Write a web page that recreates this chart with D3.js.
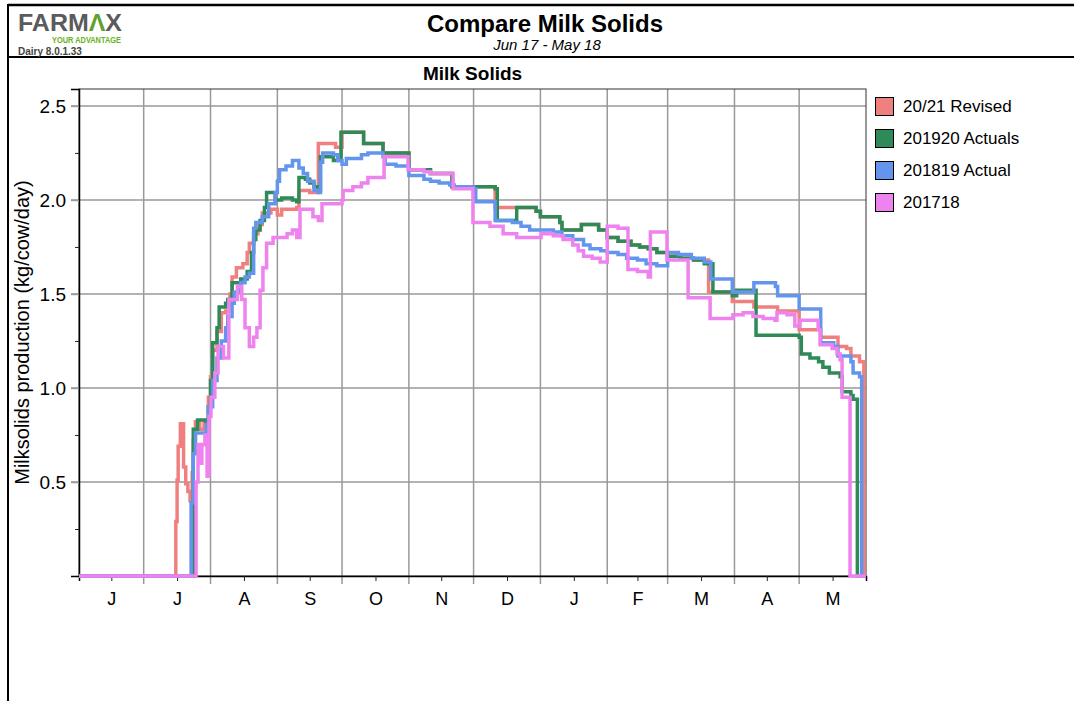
<!DOCTYPE html>
<html>
<head>
<meta charset="utf-8">
<script src="https://cdn.jsdelivr.net/npm/d3@7/dist/d3.min.js"></script>
<style>
  body { margin: 0; background: #fff; }
  text { font-family: "Liberation Sans", Arial, sans-serif; }
</style>
</head>
<body>
<div id="chart"></div>
<script>
// season runs Jun 2017 - May 2018, series are [day of season, kgMS/cow/day]
const seasonStart = new Date(2017, 5, 1);
const seasonEnd = new Date(2018, 5, 1);
const monthLabels = ["J", "J", "A", "S", "O", "N", "D", "J", "F", "M", "A", "M"];
const yTicks = [0.5, 1.0, 1.5, 2.0, 2.5];
const yMinorTicks = [0.25, 0.75, 1.25, 1.75, 2.25];
const yMax = 2.59;

const seriesNames = ["20/21 Revised", "201920 Actuals", "201819 Actual", "201718"];
const seriesColors = ["#F08080", "#2E8B57", "#6495ED", "#EE82EE"];

const revised2021 = [
  [0, 0], [44.9, 0.29], [45.5, 0.51], [46, 0.69], [47, 0.81], [48.5, 0.58], [49.5, 0.49],
  [50.5, 0.45], [51.5, 0.40], [52.5, 0.55], [53, 0.72], [54, 0.82], [56, 0.78], [58, 0.82],
  [60, 0.95], [61, 1.06], [62, 1.20], [64, 1.30], [66, 1.40], [68, 1.41], [70, 1.50],
  [71, 1.59], [73, 1.64], [76, 1.66], [78, 1.72], [79, 1.77], [81, 1.82], [83, 1.87],
  [85, 1.93], [89, 1.95], [92, 1.92], [94, 1.95], [99, 1.95], [101, 1.96], [102, 2.05],
  [107, 2.04], [111, 2.30], [119, 2.28], [122, 2.36], [132, 2.30], [141, 2.25], [153, 2.16],
  [163, 2.14], [173, 2.07], [193, 1.96], [212, 1.94], [214, 1.91], [223, 1.88], [224, 1.84],
  [233, 1.87], [241, 1.84], [245, 1.80], [250, 1.78], [256, 1.76], [260, 1.75], [264, 1.74],
  [268, 1.72], [273, 1.70], [279, 1.69], [285, 1.68], [292, 1.51], [303, 1.46], [313, 1.43],
  [324, 1.41], [334, 1.31], [344, 1.27], [352, 1.22], [356, 1.21], [358, 1.17], [362, 1.14],
  [364, 0], [365, 0]
];

const actuals1920 = [
  [0, 0], [53, 0.78], [55, 0.83], [59, 0.82], [60, 0.90], [61, 1.04], [62, 1.24], [64, 1.32],
  [65, 1.43], [68, 1.45], [69, 1.47], [71, 1.56], [75, 1.58], [78, 1.62], [80, 1.72],
  [81, 1.79], [82, 1.84], [84, 1.89], [86, 1.96], [87, 2.04], [91, 2.00], [94, 2.01],
  [99, 2.00], [101, 1.99], [102, 2.12], [105, 2.11], [107, 2.09], [109, 2.07], [111, 2.05],
  [112, 2.23], [118, 2.21], [121.5, 2.36], [132, 2.30], [141, 2.25], [153, 2.16], [163, 2.14],
  [173, 2.07], [193, 2.06], [194, 1.89], [203, 1.96], [212, 1.94], [214, 1.91], [223, 1.88],
  [224, 1.84], [233, 1.87], [241, 1.84], [245, 1.80], [250, 1.78], [256, 1.76], [260, 1.75],
  [264, 1.74], [268, 1.72], [273, 1.70], [279, 1.69], [285, 1.68], [290, 1.66], [294, 1.51],
  [303, 1.49], [305, 1.52], [314, 1.28], [334, 1.27], [335, 1.18], [339, 1.16], [343, 1.14],
  [345, 1.11], [348, 1.08], [353, 1.06], [354, 0.98], [358, 0.96], [359, 0.94], [361, 0],
  [365, 0]
];

const actual1819 = [
  [0, 0], [52, 0.39], [53, 0.65], [54, 0.76], [59, 0.80], [60, 0.90], [62, 1.04], [64, 1.16],
  [66, 1.25], [68, 1.32], [69, 1.38], [71, 1.45], [72, 1.51], [75, 1.56], [77, 1.59],
  [79, 1.61], [81, 1.85], [82, 1.88], [85, 1.91], [88, 1.98], [91, 2.04], [92, 2.10],
  [93, 2.16], [96, 2.18], [99, 2.21], [102, 2.17], [104, 2.14], [106, 2.10], [109, 2.05],
  [111, 2.04], [112, 2.20], [113, 2.25], [118, 2.24], [120, 2.21], [122, 2.19], [124, 2.22],
  [131, 2.24], [134, 2.25], [141, 2.23], [142, 2.19], [147, 2.18], [153, 2.13], [160, 2.11],
  [163, 2.10], [167, 2.09], [172, 2.08], [174, 2.07], [183, 2.06], [184, 1.99], [193, 1.89],
  [201, 1.88], [205, 1.86], [209, 1.84], [220, 1.83], [224, 1.81], [229, 1.79], [234, 1.76],
  [237, 1.74], [242, 1.73], [245, 1.72], [250, 1.71], [254, 1.69], [259, 1.68], [263, 1.66],
  [268, 1.65], [273, 1.72], [278, 1.71], [284, 1.69], [290, 1.67], [293, 1.58], [303, 1.51],
  [313, 1.56], [323, 1.54], [324, 1.49], [334, 1.42], [344, 1.24], [350, 1.22], [352, 1.17],
  [358, 1.14], [359, 1.08], [362, 1.06], [363, 0], [365, 0]
];

const season1718 = [
  [0, 0], [54.3, 0.50], [55.2, 0.70], [56.1, 0.60], [57, 0.70], [58.4, 0.75], [59.4, 0.53],
  [60.3, 0.85], [61.2, 0.95], [63, 1.08], [64.5, 1.22], [67, 1.16], [69.5, 1.47], [73.5, 1.54],
  [75.5, 1.47], [77, 1.32], [79, 1.22], [81, 1.27], [82.5, 1.32], [84, 1.52], [85.3, 1.64],
  [87, 1.77], [90, 1.80], [96.5, 1.82], [99, 1.84], [101, 1.80], [102.5, 1.95], [108.5, 1.91],
  [111, 1.89], [112.7, 1.98], [118, 1.98], [122, 2.00], [122.5, 2.05], [127, 2.07], [131, 2.09],
  [134, 2.12], [141.5, 2.23], [152.6, 2.16], [160, 2.15], [163, 2.14], [173.5, 2.06],
  [182.7, 1.88], [190.6, 1.86], [196.7, 1.82], [203, 1.80], [214.3, 1.82], [220, 1.81],
  [224.5, 1.79], [229, 1.76], [231.5, 1.73], [234, 1.70], [238, 1.69], [241.7, 1.67],
  [245, 1.86], [250, 1.85], [254.6, 1.63], [259, 1.62], [264, 1.59], [265, 1.83], [272.7, 1.68],
  [282.5, 1.48], [292.7, 1.37], [303.3, 1.39], [308, 1.40], [312.6, 1.38], [317.3, 1.37],
  [322.8, 1.36], [323.7, 1.40], [328.4, 1.39], [332, 1.33], [334.4, 1.36], [342.8, 1.31],
  [343.7, 1.23], [349.3, 1.21], [351.6, 1.18], [353, 1.15], [353.9, 0.95], [357.6, 0], [365, 0]
];

const seriesData = [revised2021, actuals1920, actual1819, season1718];

const W = 1074, H = 701;
const plot = { left: 79, right: 866, top: 89, bottom: 576 };

const svg = d3.select("#chart").append("svg")
    .attr("width", W)
    .attr("height", H)
    .style("display", "block")
    .style("background", "#fff");

// page frame + header
svg.append("line").attr("x1", 8).attr("x2", W).attr("y1", 5).attr("y2", 5)
    .attr("stroke", "#000").attr("stroke-width", 2.5);
svg.append("line").attr("x1", 8).attr("x2", 8).attr("y1", 4).attr("y2", H)
    .attr("stroke", "#000").attr("stroke-width", 2);
svg.append("line").attr("x1", 8).attr("x2", W).attr("y1", 57).attr("y2", 57)
    .attr("stroke", "#000").attr("stroke-width", 2);

const logo = svg.append("text")
    .attr("x", 18).attr("y", 30.5)
    .attr("textLength", 104).attr("lengthAdjust", "spacingAndGlyphs")
    .style("font-size", "24px").style("font-weight", "bold").style("fill", "#5b5b5b");
logo.append("tspan").text("FARM");
logo.append("tspan").style("fill", "#5fa22e").text("Λ");
logo.append("tspan").text("X");

svg.append("text").attr("x", 52).attr("y", 43)
    .attr("textLength", 69).attr("lengthAdjust", "spacingAndGlyphs")
    .style("font-size", "8.5px").style("font-weight", "bold").style("fill", "#6ab023")
    .text("YOUR ADVANTAGE");
svg.append("text").attr("x", 18).attr("y", 54.5)
    .style("font-size", "10px").style("font-weight", "bold").style("fill", "#444")
    .text("Dairy 8.0.1.33");

svg.append("text").attr("x", 545).attr("y", 32).attr("text-anchor", "middle")
    .style("font-size", "24px").style("font-weight", "bold").style("fill", "#000")
    .text("Compare Milk Solids");
svg.append("text").attr("x", 547).attr("y", 50).attr("text-anchor", "middle")
    .style("font-size", "15px").style("font-style", "italic").style("fill", "#000")
    .text("Jun 17 - May 18");
svg.append("text").attr("x", (plot.left + plot.right) / 2).attr("y", 80).attr("text-anchor", "middle")
    .style("font-size", "19px").style("font-weight", "bold").style("fill", "#000")
    .text("Milk Solids");

// scales
const x = d3.scaleTime().domain([seasonStart, seasonEnd]).range([plot.left, plot.right]);
const y = d3.scaleLinear().domain([0, yMax]).range([plot.bottom, plot.top]);
const dayToDate = d => new Date(+seasonStart + d * 864e5);

const monthStarts = d3.timeMonth.range(seasonStart, seasonEnd);
const monthMids = monthStarts.map(m => new Date((+m + +d3.timeMonth.offset(m, 1)) / 2));

// grid
const grid = svg.append("g");
grid.selectAll(".vgrid")
    .data(monthStarts.slice(1))
    .enter().append("line")
    .attr("x1", d => x(d)).attr("x2", d => x(d))
    .attr("y1", plot.top).attr("y2", plot.bottom + 8)
    .attr("stroke", "#999").attr("stroke-width", 1.5);
grid.selectAll(".hgrid")
    .data(yTicks)
    .enter().append("line")
    .attr("x1", plot.left - 8).attr("x2", plot.right)
    .attr("y1", d => y(d)).attr("y2", d => y(d))
    .attr("stroke", "#999").attr("stroke-width", 1.5);

// plot frame
svg.append("rect")
    .attr("x", plot.left).attr("y", plot.top)
    .attr("width", plot.right - plot.left).attr("height", plot.bottom - plot.top)
    .attr("fill", "none").attr("stroke", "#333").attr("stroke-width", 1);

// y axis
const yAxis = svg.append("g")
    .attr("transform", `translate(${plot.left},0)`)
    .call(d3.axisLeft(y).tickValues(yTicks).tickFormat(d3.format(".1f")).tickSize(8).tickPadding(5));
yAxis.select(".domain").attr("stroke", "#000").attr("stroke-width", 1.5);
yAxis.selectAll(".tick line").attr("stroke", "#999").attr("stroke-width", 1.5);
yAxis.selectAll(".tick text")
    .style("font-size", "19px").style("fill", "#000")
    .style("font-family", "'Liberation Sans', Arial, sans-serif");

svg.append("g")
    .attr("transform", `translate(${plot.left},0)`)
    .call(d3.axisLeft(y).tickValues(yMinorTicks).tickFormat("").tickSize(4))
    .call(g => g.select(".domain").remove())
    .selectAll(".tick line").attr("stroke", "#222");

svg.append("text")
    .attr("transform", `translate(29,${(plot.top + plot.bottom) / 2}) rotate(-90)`)
    .attr("text-anchor", "middle")
    .style("font-size", "20px").style("fill", "#000")
    .text("Milksolids production (kg/cow/day)");

// x axis: labels sit mid-month
const xAxis = svg.append("g")
    .attr("transform", `translate(0,${plot.bottom})`)
    .call(d3.axisBottom(x).tickValues(monthMids).tickFormat((d, i) => monthLabels[i]).tickSize(5).tickPadding(11));
xAxis.select(".domain").attr("stroke", "#000").attr("stroke-width", 1.5);
xAxis.selectAll(".tick line").attr("stroke", "#222");
xAxis.selectAll(".tick text")
    .style("font-size", "18px").style("fill", "#000")
    .style("font-family", "'Liberation Sans', Arial, sans-serif");

// series
const line = d3.line()
    .x(d => x(dayToDate(d[0])))
    .y(d => y(d[1]))
    .curve(d3.curveStepAfter);

svg.append("g").selectAll("path")
    .data(seriesData)
    .enter().append("path")
    .attr("d", d => line(d))
    .attr("fill", "none")
    .attr("stroke", (d, i) => seriesColors[i])
    .attr("stroke-width", 3.5)
    .attr("stroke-linejoin", "miter");

// legend
const legend = svg.append("g").attr("transform", "translate(875,97)");
const item = legend.selectAll("g")
    .data(seriesNames)
    .enter().append("g")
    .attr("transform", (d, i) => `translate(0,${i * 32})`);
item.append("rect")
    .attr("x", 0.5).attr("y", 0.5).attr("width", 18).attr("height", 18)
    .attr("fill", (d, i) => seriesColors[i])
    .attr("stroke", "#000").attr("stroke-width", 1);
item.append("text")
    .attr("x", 28).attr("y", 15)
    .style("font-size", "17px").style("fill", "#000")
    .text(d => d);
</script>
</body>
</html>
